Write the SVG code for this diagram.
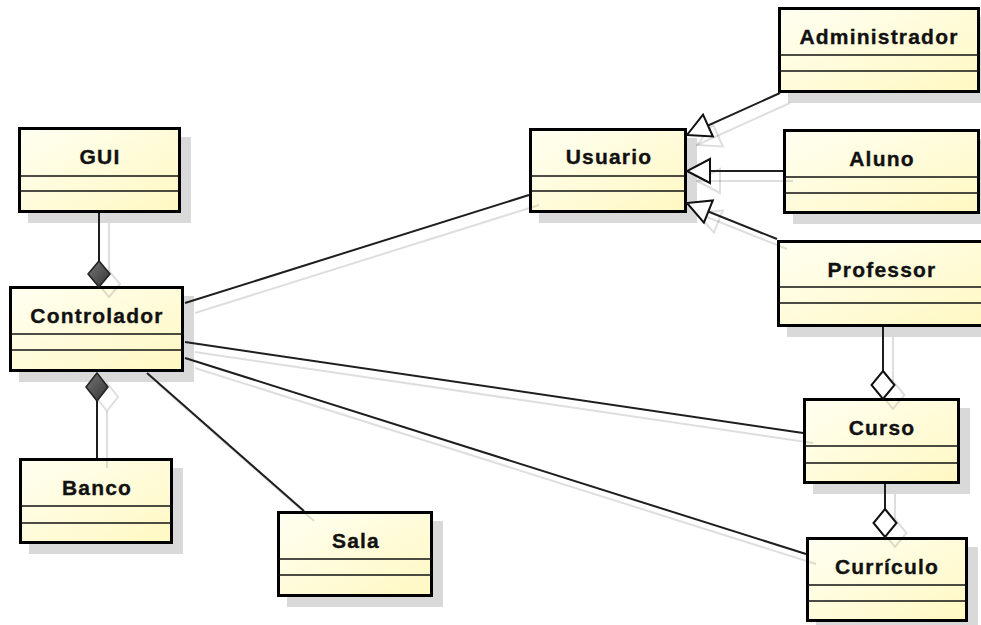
<svg xmlns="http://www.w3.org/2000/svg" width="981" height="625" viewBox="0 0 981 625">
  <defs>
    <linearGradient id="classFill" x1="0" y1="0" x2="1" y2="1">
      <stop offset="0" stop-color="#fffff2"/>
      <stop offset="1" stop-color="#fff8c2"/>
    </linearGradient>
    <linearGradient id="compFill" x1="0" y1="0" x2="1" y2="1">
      <stop offset="0" stop-color="#777"/>
      <stop offset="1" stop-color="#333"/>
    </linearGradient>
    <!-- hollow triangle for generalization, tip at the line end -->
    <marker id="genArrow" viewBox="0 0 26 28" refX="25" refY="14" markerWidth="26" markerHeight="28" markerUnits="userSpaceOnUse" orient="auto">
      <path d="M25,14 L2,2 L2,26 Z" fill="#fff" stroke="#111" stroke-width="2" stroke-linejoin="miter"/>
    </marker>
    <marker id="genArrowShadow" viewBox="0 0 26 28" refX="25" refY="14" markerWidth="26" markerHeight="28" markerUnits="userSpaceOnUse" orient="auto">
      <path d="M25,14 L2,2 L2,26 Z" fill="none" stroke="#000" stroke-opacity="0.13" stroke-width="2"/>
    </marker>
  </defs>
  <style>
    .shadow { fill: #d9d9d9; }
    .box { fill: url(#classFill); stroke: #000; stroke-width: 3; }
    .sep { stroke: #111; stroke-width: 1.6; }
    .name { font-family: "Liberation Sans", Arial, sans-serif; font-weight: bold; font-size: 21px; letter-spacing: 1.2px; fill: #111; stroke: #111; stroke-width: 0.35; text-anchor: middle; }
    .edge { stroke: #1e1e1e; stroke-width: 2; fill: none; }
    .edge-shadow { stroke: #000; stroke-opacity: 0.13; stroke-width: 2; fill: none; }
    .composite { fill: url(#compFill); stroke: #222; stroke-width: 1.5; }
    .aggregate { fill: #fff; stroke: #111; stroke-width: 2; }
    .diamond-shadow { fill: none; stroke: #000; stroke-opacity: 0.13; stroke-width: 2; }
  </style>

  <!-- class nodes: drop shadow, body, two compartments, name -->
  <g id="gui">
    <rect class="shadow" x="28" y="137" width="163" height="86"/>
    <rect class="box" x="19.5" y="128.5" width="160" height="83"/>
    <line class="sep" x1="19.5" y1="176" x2="179.5" y2="176"/>
    <line class="sep" x1="19.5" y1="191" x2="179.5" y2="191"/>
    <text class="name" x="100" y="164">GUI</text>
  </g>
  <g id="controlador">
    <rect class="shadow" x="19" y="296" width="175" height="86"/>
    <rect class="box" x="10.5" y="287.5" width="172" height="83"/>
    <line class="sep" x1="10.5" y1="334" x2="182.5" y2="334"/>
    <line class="sep" x1="10.5" y1="350" x2="182.5" y2="350"/>
    <text class="name" x="97" y="323">Controlador</text>
  </g>
  <g id="banco">
    <rect class="shadow" x="29" y="468" width="154" height="86"/>
    <rect class="box" x="20.5" y="459.5" width="151" height="83"/>
    <line class="sep" x1="20.5" y1="506" x2="171.5" y2="506"/>
    <line class="sep" x1="20.5" y1="523" x2="171.5" y2="523"/>
    <text class="name" x="97" y="495">Banco</text>
  </g>
  <g id="sala">
    <rect class="shadow" x="287" y="521" width="156" height="86"/>
    <rect class="box" x="278.5" y="512.5" width="153" height="83"/>
    <line class="sep" x1="278.5" y1="559" x2="431.5" y2="559"/>
    <line class="sep" x1="278.5" y1="575" x2="431.5" y2="575"/>
    <text class="name" x="356" y="548">Sala</text>
  </g>
  <g id="usuario">
    <rect class="shadow" x="539" y="138" width="158" height="85"/>
    <rect class="box" x="530.5" y="129.5" width="155" height="82"/>
    <line class="sep" x1="530.5" y1="176" x2="685.5" y2="176"/>
    <line class="sep" x1="530.5" y1="191" x2="685.5" y2="191"/>
    <text class="name" x="609" y="164">Usuario</text>
  </g>
  <g id="administrador">
    <rect class="shadow" x="788" y="17" width="202" height="86"/>
    <rect class="box" x="779.5" y="8.5" width="199" height="83"/>
    <line class="sep" x1="779.5" y1="55" x2="978.5" y2="55"/>
    <line class="sep" x1="779.5" y1="71" x2="978.5" y2="71"/>
    <text class="name" x="879" y="44">Administrador</text>
  </g>
  <g id="aluno">
    <rect class="shadow" x="793" y="139" width="197" height="85"/>
    <rect class="box" x="784.5" y="130.5" width="194" height="82"/>
    <line class="sep" x1="784.5" y1="177" x2="978.5" y2="177"/>
    <line class="sep" x1="784.5" y1="193" x2="978.5" y2="193"/>
    <text class="name" x="882" y="166">Aluno</text>
  </g>
  <g id="professor">
    <rect class="shadow" x="787" y="250" width="205" height="87"/>
    <rect class="box" x="778.5" y="241.5" width="204" height="84"/>
    <line class="sep" x1="778.5" y1="287" x2="982" y2="287"/>
    <line class="sep" x1="778.5" y1="303" x2="982" y2="303"/>
    <text class="name" x="882" y="277">Professor</text>
  </g>
  <g id="curso">
    <rect class="shadow" x="813" y="408" width="157" height="86"/>
    <rect class="box" x="804.5" y="399.5" width="154" height="83"/>
    <line class="sep" x1="804.5" y1="446" x2="958.5" y2="446"/>
    <line class="sep" x1="804.5" y1="463" x2="958.5" y2="463"/>
    <text class="name" x="882" y="435">Curso</text>
  </g>
  <g id="curriculo">
    <rect class="shadow" x="816" y="547" width="162" height="85"/>
    <rect class="box" x="807.5" y="538.5" width="159" height="82"/>
    <line class="sep" x1="807.5" y1="585" x2="966.5" y2="585"/>
    <line class="sep" x1="807.5" y1="601" x2="966.5" y2="601"/>
    <text class="name" x="887" y="574">Currículo</text>
  </g>

  <!-- connectors: shadows first, then the lines and their end symbols -->
  <g id="connectors">
    <g id="connector-shadows" transform="translate(10,10)">
      <line class="edge-shadow" x1="99" y1="213" x2="99" y2="261"/>
      <polygon class="diamond-shadow" points="99,287 110,274 99,261 88,274"/>
      <line class="edge-shadow" x1="97" y1="401" x2="97" y2="458"/>
      <polygon class="diamond-shadow" points="97,373 108,387 97,401 86,387"/>
      <line class="edge-shadow" x1="147" y1="373" x2="304" y2="511"/>
      <line class="edge-shadow" x1="185" y1="303" x2="529" y2="195"/>
      <line class="edge-shadow" x1="185" y1="342" x2="803" y2="433"/>
      <line class="edge-shadow" x1="185" y1="358" x2="806" y2="554"/>
      <line class="edge-shadow" x1="780" y1="93" x2="687" y2="135" marker-end="url(#genArrowShadow)"/>
      <line class="edge-shadow" x1="783" y1="171" x2="687" y2="171" marker-end="url(#genArrowShadow)"/>
      <line class="edge-shadow" x1="777" y1="239" x2="687" y2="203" marker-end="url(#genArrowShadow)"/>
      <line class="edge-shadow" x1="883" y1="327" x2="883" y2="371"/>
      <polygon class="diamond-shadow" points="883,371 894.5,385 883,399 871.5,385"/>
      <line class="edge-shadow" x1="885" y1="484" x2="885" y2="509"/>
      <polygon class="diamond-shadow" points="885,509 896.5,523 885,537 873.5,523"/>
    </g>

    <!-- GUI composed into Controlador -->
    <line class="edge" x1="99" y1="213" x2="99" y2="261"/>
    <polygon class="composite" points="99,287 110,274 99,261 88,274"/>
    <!-- Controlador composed of Banco -->
    <line class="edge" x1="97" y1="401" x2="97" y2="458"/>
    <polygon class="composite" points="97,373 108,387 97,401 86,387"/>
    <!-- associations from Controlador -->
    <line class="edge" x1="147" y1="373" x2="304" y2="511"/>
    <line class="edge" x1="185" y1="303" x2="529" y2="195"/>
    <line class="edge" x1="185" y1="342" x2="803" y2="433"/>
    <line class="edge" x1="185" y1="358" x2="806" y2="554"/>
    <!-- generalizations to Usuario -->
    <line class="edge" x1="780" y1="93" x2="687" y2="135" marker-end="url(#genArrow)"/>
    <line class="edge" x1="783" y1="171" x2="687" y2="171" marker-end="url(#genArrow)"/>
    <line class="edge" x1="777" y1="239" x2="687" y2="203" marker-end="url(#genArrow)"/>
    <!-- aggregations -->
    <line class="edge" x1="883" y1="327" x2="883" y2="371"/>
    <polygon class="aggregate" points="883,371 894.5,385 883,399 871.5,385"/>
    <line class="edge" x1="885" y1="484" x2="885" y2="509"/>
    <polygon class="aggregate" points="885,509 896.5,523 885,537 873.5,523"/>
  </g>
</svg>
